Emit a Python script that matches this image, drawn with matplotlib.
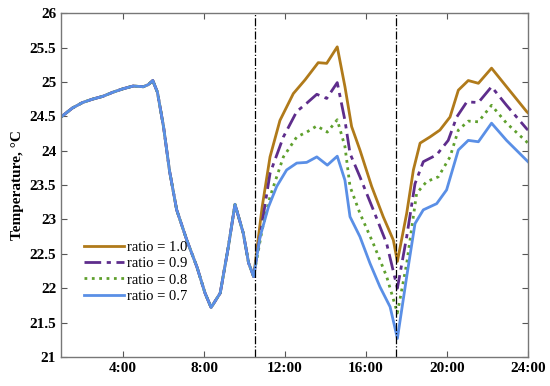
import matplotlib
matplotlib.use("Agg")
import matplotlib.pyplot as plt
import numpy as np

# shared part (all ratios identical before 10:30)
t_common = [0.94, 1.5, 2.0, 2.5, 3.0, 3.5, 4.0, 4.5, 5.0, 5.25, 5.47, 5.7, 6.0, 6.3,
            6.65, 7.15, 7.65, 8.05, 8.35, 8.8, 9.2, 9.53, 9.94, 10.2, 10.45]
T_common = [24.49, 24.62, 24.70, 24.75, 24.79, 24.85, 24.90, 24.94, 24.93, 24.96, 25.02,
            24.85, 24.35, 23.70, 23.14, 22.70, 22.31, 21.93, 21.72, 21.93, 22.60, 23.22,
            22.80, 22.37, 22.17]

# after 10:30
t_r10 = [10.87, 11.26, 11.75, 12.41, 12.99, 13.64, 14.06, 14.58, 14.96, 15.29, 15.70,
         16.28, 16.85, 17.35, 17.55, 18.01, 18.34, 18.67, 19.16, 19.65, 20.15, 20.56,
         21.05, 21.55, 22.2, 22.94, 23.93, 24.0]
T_r10 = [23.18, 23.91, 24.44, 24.83, 25.03, 25.28, 25.27, 25.51, 24.93, 24.35, 24.01,
         23.48, 23.04, 22.70, 22.39, 23.09, 23.72, 24.11, 24.20, 24.30, 24.49, 24.88,
         25.02, 24.98, 25.20, 24.93, 24.57, 24.55]

t_r09 = [10.87, 11.26, 11.92, 12.58, 13.07, 13.57, 14.06, 14.58, 14.96, 15.21, 15.70,
         16.36, 17.02, 17.55, 18.01, 18.42, 18.83, 19.49, 20.06, 20.48, 20.98, 21.55,
         22.2, 22.94, 23.93, 24.0]
T_r09 = [22.95, 23.67, 24.20, 24.57, 24.69, 24.82, 24.76, 24.99, 24.44, 23.96, 23.62,
         23.14, 22.65, 22.00, 22.75, 23.52, 23.84, 23.94, 24.15, 24.49, 24.71, 24.70,
         24.93, 24.66, 24.32, 24.30]

t_r08 = [10.87, 11.26, 11.92, 12.58, 13.07, 13.57, 14.09, 14.58, 14.96, 15.21, 15.70,
         16.36, 17.02, 17.55, 18.01, 18.5, 18.99, 19.57, 20.15, 20.56, 21.05, 21.55,
         22.2, 22.94, 23.93, 24.0]
T_r08 = [22.85, 23.33, 23.91, 24.20, 24.27, 24.36, 24.27, 24.45, 24.06, 23.48, 23.09,
         22.65, 22.17, 21.64, 22.36, 23.38, 23.55, 23.62, 23.91, 24.30, 24.43, 24.42,
         24.66, 24.40, 24.13, 24.11]

t_r07 = [10.77, 11.18, 11.59, 12.08, 12.58, 13.07, 13.57, 14.09, 14.58, 14.96, 15.21,
         15.70, 16.2, 16.69, 17.19, 17.55, 18.01, 18.42, 18.83, 19.49, 19.98, 20.56,
         21.05, 21.55, 22.2, 22.94, 23.93, 24.0]
T_r07 = [22.75, 23.18, 23.48, 23.72, 23.82, 23.83, 23.91, 23.79, 23.92, 23.57, 23.04,
         22.75, 22.36, 22.02, 21.73, 21.27, 22.17, 22.94, 23.14, 23.23, 23.43, 24.01,
         24.15, 24.13, 24.40, 24.15, 23.86, 23.84]

labels = ["ratio = 1.0", "ratio = 0.9", "ratio = 0.8", "ratio = 0.7"]
vlines = [10.5, 17.5]
xticks = [4, 8, 12, 16, 20, 24]
xticklabels = ["4:00", "8:00", "12:00", "16:00", "20:00", "24:00"]
yticks = [21, 21.5, 22, 22.5, 23, 23.5, 24, 24.5, 25, 25.5, 26]
yticklabels = ["21", "21.5", "22", "22.5", "23", "23.5", "24", "24.5", "25", "25.5", "26"]

plt.rcParams['font.family'] = ['Liberation Serif', 'DejaVu Serif']

fig = plt.figure(figsize=(5.5, 3.86), dpi=100)
ax = fig.add_axes([0.111, 0.075, 0.849, 0.891])

series = [(t_r10, T_r10, '#B07A1A', '-', 2.0),
          (t_r09, T_r09, '#5E2D8C', (0, (6, 2, 1.5, 2)), 2.0),
          (t_r08, T_r08, '#5FA02D', ':', 2.0),
          (t_r07, T_r07, '#5A8FE6', '-', 2.0)]
for (tt, TT, c, ls, lw), lab in zip(series, labels):
    x = list(t_common) + list(tt)
    y = list(T_common) + list(TT)
    ax.plot(x, y, color=c, linestyle=ls, linewidth=lw, label=lab,
            solid_joinstyle='round', dash_joinstyle='round')

for v in vlines:
    ax.axvline(v, color='black', linestyle='-.', linewidth=0.9)

ax.set_xlim(0.94, 24)
ax.set_ylim(21, 26)
ax.set_xticks(xticks)
ax.set_xticklabels(xticklabels, fontsize=11, fontweight='bold')
ax.set_yticks(yticks)
ax.set_yticklabels(yticklabels, fontsize=11, fontweight='bold')
ax.tick_params(direction='in', top=True, right=True, length=4, width=0.8, colors='#555555',
               labelcolor='black')
for s in ax.spines.values():
    s.set_color('#777777')
    s.set_linewidth(1.0)
ax.set_ylabel("Temperature, °C", fontsize=11, fontweight='bold')

ax.legend(loc='lower left', bbox_to_anchor=(0.02, 0.12), frameon=False, fontsize=10.5,
          handlelength=2.8, handletextpad=0.2, labelspacing=0.2, borderaxespad=0.5)

fig.savefig("out.png", dpi=100)
